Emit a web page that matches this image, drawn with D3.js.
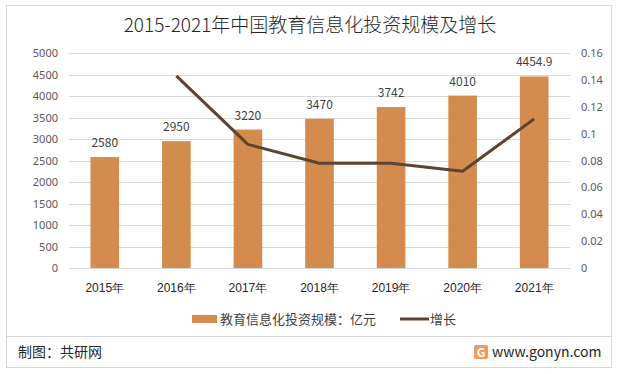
<!DOCTYPE html>
<html>
<head>
<meta charset="utf-8">
<script src="https://cdn.jsdelivr.net/npm/d3@7"></script>
<style>
  body { margin: 0; background: #fff; }
  svg { font-family: "Microsoft YaHei", "Noto Sans CJK SC", sans-serif; }
</style>
</head>
<body>
<div id="chart"></div>
<script>
// data
var years = ['2015年', '2016年', '2017年', '2018年', '2019年', '2020年', '2021年'];
var scale = [2580, 2950, 3220, 3470, 3742, 4010, 4454.9];
var growth = [null, 0.143, 0.092, 0.078, 0.078, 0.072, 0.111];
var leftTicks = [0, 500, 1000, 1500, 2000, 2500, 3000, 3500, 4000, 4500, 5000];
var rightTicks = [0, 0.02, 0.04, 0.06, 0.08, 0.1, 0.12, 0.14, 0.16];

var width = 619, height = 374;
var barColor = '#D38C4E', lineColor = '#5E4331';

var svg = d3.select('#chart').append('svg')
            .attr('width', width)
            .attr('height', height);

// frame
svg.append('rect')
   .attr('x', 6.5).attr('y', 5.5)
   .attr('width', 605).attr('height', 362)
   .style('fill', 'none')
   .style('stroke', '#d9d9d9');

svg.append('line')
   .attr('x1', 6).attr('x2', 612)
   .attr('y1', 336.5).attr('y2', 336.5)
   .style('stroke', '#d9d9d9');

// title
svg.append('text')
   .attr('x', 310).attr('y', 32)
   .attr('text-anchor', 'middle')
   .style('font-size', '19px')
   .style('font-weight', 300)
   .style('fill', '#262626')
   .text('2015-2021年中国教育信息化投资规模及增长');

var x = d3.scaleBand().domain(years).range([69, 570]).paddingInner(0.6).paddingOuter(0.3);
var y = d3.scaleLinear().domain([0, 5000]).range([268, 53]);
var y2 = d3.scaleLinear().domain([0, 0.16]).range([268, 53]);

// grid
svg.append('g').selectAll('line')
   .data(leftTicks)
   .join('line')
   .attr('x1', 69).attr('x2', 570)
   .attr('y1', function(d) { return Math.round(y(d)) + 0.5; })
   .attr('y2', function(d) { return Math.round(y(d)) + 0.5; })
   .style('stroke', '#d9d9d9');

// left axis
var leftAxis = svg.append('g')
   .attr('transform', 'translate(69,0)')
   .call(d3.axisLeft(y).tickValues(leftTicks).tickSize(0).tickPadding(11).tickFormat(d3.format('d')));
leftAxis.select('.domain').remove();
leftAxis.selectAll('text').style('font-size', '11px').style('fill', '#595959')
   .style('font-family', '"Microsoft YaHei", "Noto Sans", sans-serif');

// right axis
var rightAxis = svg.append('g')
   .attr('transform', 'translate(570,0)')
   .call(d3.axisRight(y2).tickValues(rightTicks).tickSize(0).tickPadding(11)
          .tickFormat(function(d) { return String(+d.toFixed(2)); }));
rightAxis.select('.domain').remove();
rightAxis.selectAll('text').style('font-size', '11px').style('fill', '#595959')
   .style('font-family', '"Microsoft YaHei", "Noto Sans", sans-serif');

// x axis
var xAxis = svg.append('g')
   .attr('transform', 'translate(0,268)')
   .call(d3.axisBottom(x).tickSize(0).tickPadding(15));
xAxis.select('.domain').remove();
xAxis.selectAll('text').style('font-size', '12px').style('fill', '#262626');

// bars
svg.append('g').selectAll('rect')
   .data(scale)
   .join('rect')
   .attr('x', function(d, i) { return x(years[i]); })
   .attr('y', function(d) { return y(d); })
   .attr('width', x.bandwidth())
   .attr('height', function(d) { return y(0) - y(d); })
   .style('fill', barColor);

svg.append('g').selectAll('text')
   .data(scale)
   .join('text')
   .attr('x', function(d, i) { return x(years[i]) + x.bandwidth() / 2; })
   .attr('y', function(d) { return y(d) - 10; })
   .attr('text-anchor', 'middle')
   .style('font-size', '12px')
   .style('fill', '#404040')
   .text(function(d) { return d; });

// growth line
var line = d3.line()
   .defined(function(d) { return d != null; })
   .x(function(d, i) { return x(years[i]) + x.bandwidth() / 2; })
   .y(function(d) { return y2(d); });

svg.append('path')
   .datum(growth)
   .attr('d', line)
   .style('fill', 'none')
   .style('stroke', lineColor)
   .style('stroke-width', 3)
   .style('stroke-linejoin', 'round');

// legend
svg.append('rect')
   .attr('x', 192).attr('y', 315)
   .attr('width', 25).attr('height', 8)
   .style('fill', barColor);
svg.append('text')
   .attr('x', 220).attr('y', 324)
   .style('font-size', '13px')
   .style('fill', '#404040')
   .text('教育信息化投资规模：亿元');

svg.append('line')
   .attr('x1', 400).attr('x2', 429)
   .attr('y1', 319).attr('y2', 319)
   .style('stroke', lineColor)
   .style('stroke-width', 3);
svg.append('text')
   .attr('x', 430).attr('y', 324)
   .style('font-size', '13px')
   .style('fill', '#404040')
   .text('增长');

// footer
svg.append('text')
   .attr('x', 18).attr('y', 357)
   .style('font-size', '14px')
   .style('fill', '#262626')
   .text('制图：共研网');

var logo = svg.append('g').attr('transform', 'translate(474,345)');
logo.append('rect')
   .attr('width', 14).attr('height', 14).attr('rx', 2)
   .style('fill', '#F39A5B');
logo.append('text')
   .attr('x', 7).attr('y', 12)
   .attr('text-anchor', 'middle')
   .style('font-size', '12px')
   .style('font-weight', 'bold')
   .style('fill', '#fff')
   .text('G');

svg.append('text')
   .attr('x', 492).attr('y', 357)
   .style('font-size', '14px')
   .style('fill', '#262626')
   .text('www.gonyn.com');
</script>
</body>
</html>
